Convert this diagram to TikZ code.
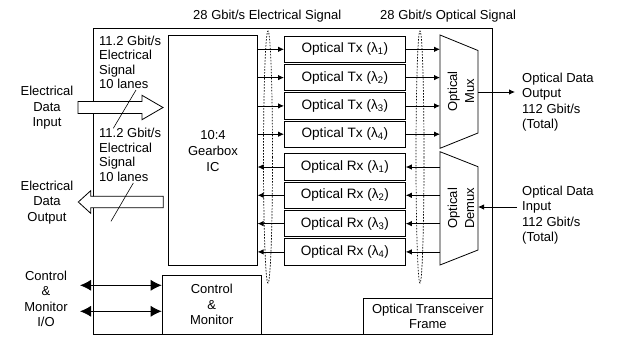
\documentclass[tikz,border=0pt]{standalone}
\usepackage{fontspec}
\setmainfont{Liberation Sans}
\usepackage{tikz}
\usetikzlibrary{
  positioning,
  arrows.meta
}
\tikzset{
  >=Latex,
  blk/.style={rectangle,draw,line width=0.8pt,inner sep=0pt,align=center},
  lanebox/.style={blk,minimum width=121pt,minimum height=26.5pt,anchor=west,font=\fontsize{13.6}{15.5}\selectfont},
  sarrow/.style={-{Latex[length=6pt,width=5.5pt]},line width=0.8pt},
  ioarrow/.style={{Latex[length=11pt,width=11pt]}-{Latex[length=11pt,width=11pt]},line width=0.8pt},
  hollow/.style={draw,fill=white,line width=0.8pt},
  ring/.style={draw,line width=0.7pt,dash pattern=on 1.6pt off 1.4pt},
  lbl/.style={align=center,inner sep=0pt},
  lanelbl/.style={align=left,inner sep=0pt,anchor=north west,font=\fontsize{13}{14.5}\selectfont},
  sidelbl/.style={align=left,inner sep=0pt,anchor=north west}
}

\begin{document}
\begin{tikzpicture}[x=1pt,y=-1pt,font=\fontsize{13}{15.5}\selectfont]
    \useasboundingbox (0,0) rectangle (622,338);
    \node[blk,minimum width=398.5pt,minimum height=306pt,anchor=north west] (frame) at (93.3,27.5) {};
    \node[blk,minimum width=88.5pt,minimum height=230.3pt,anchor=north west,font=\fontsize{13}{16}\selectfont] (gb) at (168.3,35) {10:4\\Gearbox\\IC};
    \node[blk,minimum width=99.3pt,minimum height=58.2pt,anchor=north west] (ctrl) at (161.7,275.3) {Control\\\&\\Monitor};
    \node[blk,minimum width=128.7pt,minimum height=35.5pt,anchor=south east] (otf) at (frame.south east) {Optical Transceiver\\Frame};

    \foreach \i/\y in {1/49.3,2/77.6,3/105.9,4/134.2}
        \node[lanebox] (tx\i) at (284,\y) {Optical Tx (λ\textsubscript{\i})};
    \foreach \i/\y in {1/167,2/195.3,3/223.6,4/251.9}
        \node[lanebox] (rx\i) at (284,\y) {Optical Rx (λ\textsubscript{\i})};

    \draw[line width=0.8pt] (440,35) coordinate (mux1) -- (478,50.5) -- (478,133) -- (440,148.3) -- cycle;
    \draw[line width=0.8pt] (440,151.7) coordinate (dmx1) -- (478,166.7) -- (478,250) -- (440,265) -- cycle;
    \node[lbl,rotate=90,font=\fontsize{13}{17}\selectfont] (mux) at (461,91.5) {Optical\\Mux};
    \node[lbl,rotate=90,font=\fontsize{13}{17}\selectfont] (dmx) at (461,208.3) {Optical\\Demux};
    \coordinate (muxo) at (478,92);
    \coordinate (dmxi) at (478,207);

    \draw[ring] (268,157) ellipse (4.5 and 126);
    \draw[ring] (420,157) ellipse (4 and 126);

    \foreach \i in {1,...,4} {
        \draw[sarrow] (tx\i.west -| gb.east) -- (tx\i.west);
        \draw[sarrow] (tx\i.east) -- (tx\i.east -| mux1);
        \draw[sarrow] (rx\i.west) -- (rx\i.west -| gb.east);
        \draw[sarrow] (rx\i.east -| dmx1) -- (rx\i.east);
    }

    \node[sidelbl] (olbl) at (522,72.5) {Optical Data\\Output\\112 Gbit/s\\(Total)};
    \node[sidelbl] (ilbl) at (522,185.5) {Optical Data\\Input\\112 Gbit/s\\(Total)};
    \draw[sarrow] (muxo) -- ([xshift=-7pt]muxo -| olbl.west);
    \draw[sarrow] ([xshift=-5pt]dmxi -| ilbl.west) -- (dmxi);

    \node[lbl,anchor=north] (ein) at (47,86) {Electrical\\Data\\Input};
    \node[lbl,anchor=north] (eout) at (47,180.6) {Electrical\\Data\\Output};
    \node[lbl,anchor=north] (cmio) at (46,270.6) {Control\\\&\\Monitor\\I/O};

    \draw[hollow] (78,101.5) -- (142,101.5) -- (142,95.3) -- (163,107.5) -- (142,119.7) -- (142,113.5) -- (78,113.5) -- cycle;
    \draw[hollow] (163.3,196.3) -- (90.7,196.3) -- (90.7,190.7) -- (78.3,202) -- (90.7,213.3) -- (90.7,207.8) -- (163.3,207.8) -- cycle;

    \node[lanelbl] (lane1) at (99,35.5) {11.2 Gbit/s\\Electrical\\Signal\\10 lanes};
    \node[lanelbl] (lane2) at (99,128) {11.2 Gbit/s\\Electrical\\Signal\\10 lanes};
    \draw[line width=0.6pt] (136,90) -- (113.3,128.3);
    \draw[line width=0.6pt] (133.3,183) -- (111,221.3);

    \coordinate (cio1) at (80,285.3);
    \coordinate (cio2) at (80,311.3);
    \draw[ioarrow] (cio1) -- (cio1 -| ctrl.west);
    \draw[ioarrow] (cio2) -- (cio2 -| ctrl.west);

    \node[anchor=base west,inner sep=0pt] (elsig) at (193,19.7) {28 Gbit/s Electrical Signal};
    \node[anchor=base west,inner sep=0pt] (opsig) at (380,19.7) {28 Gbit/s Optical Signal};
\end{tikzpicture}
\end{document}
